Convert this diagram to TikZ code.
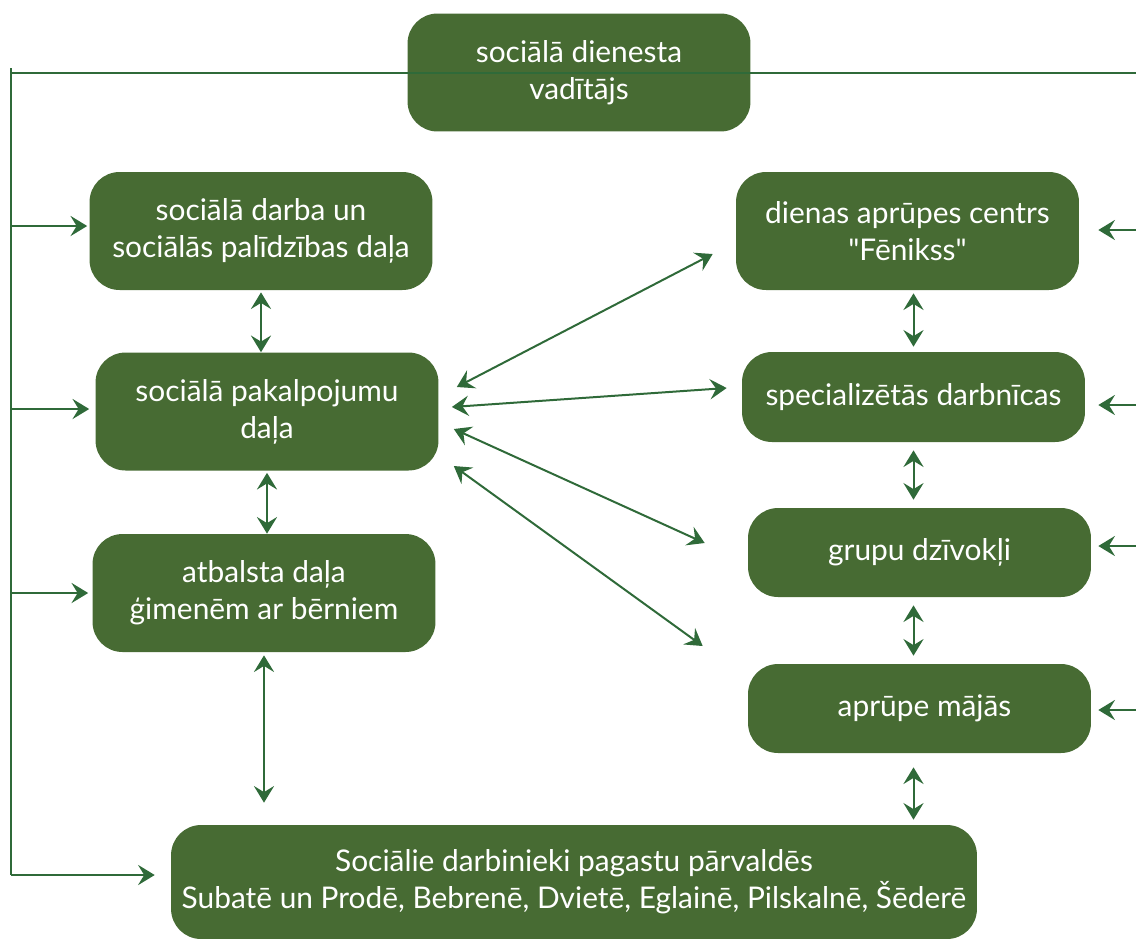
\documentclass[tikz,border=0pt]{standalone}
\usepackage{fontspec}
\newfontfamily\boxfont{Lato}
\usetikzlibrary{arrows.meta}
\definecolor{boxgreen}{RGB}{71,107,51}
\definecolor{linegreen}{RGB}{47,106,57}

\begin{document}
\begin{tikzpicture}[x=0.02cm,y=-0.02cm]
      \useasboundingbox (0,0) rectangle (1136,938);

      \begin{scope}[every node/.style={rounded corners=0.6cm, fill=boxgreen, text=white, align=center,
          inner sep=0pt, minimum width=6.86cm, minimum height=2.36cm, font=\boxfont\fontsize{17}{21}\selectfont}]
        \node (1) at (579,72.5)   {sociālā dienesta\\vadītājs};
        \node (2) at (261,231)    {sociālā darba un\\sociālās palīdzības daļa};
        \node (3) at (267,411.5)  {sociālā pakalpojumu\\daļa};
        \node (4) at (264,593)    {atbalsta daļa\\ģimenēm ar bērniem};
        \node[minimum width=16.12cm, minimum height=2.28cm] (5) at (574,882)
          {Sociālie darbinieki pagastu pārvaldēs\\Subatē un Prodē, Bebrenē, Dvietē, Eglainē, Pilskalnē, Šēderē};
        \node (6) at (907.5,231)  {dienas aprūpes centrs\\"Fēnikss"};
        \node[minimum height=1.8cm]  (7) at (913.5,397)  {specializētās darbnīcas};
        \node[minimum height=1.78cm] (8) at (919.5,552.5) {grupu dzīvokļi};
        \node[minimum height=1.78cm] (9) at (919.5,708.5) {\hspace{0.2cm}aprūpe mājās};
      \end{scope}

      \begin{scope}[draw=linegreen, line width=0.04cm, >={Stealth[length=9.5pt,width=11.5pt,inset=3.5pt]}]
        \coordinate (a) at (11,68);
        \coordinate (b) at (11,875);
        \coordinate (c) at (1136,73);
        \draw (a) -- (b);
        \draw (a |- c) -- (c);

        \foreach \n/\dy/\gap in {2/0.1/0.04, 3/0.05/0.12, 4/0/0.08, 5/0.14/0.32} {
          \coordinate (l\n) at ([yshift=\dy cm]\n.west);
          \draw[->, shorten >=\gap cm] (l\n -| a) -- (l\n);
        }
        \foreach \n/\dy/\gap in {6/0.02/0.38, 7/-0.16/0.26, 8/0.13/0.14, 9/-0.03/0.14} {
          \coordinate (r\n) at ([yshift=\dy cm]\n.east);
          \draw[->, shorten >=\gap cm] (r\n -| c) -- (r\n);
        }

        \begin{scope}[every edge/.style={draw, <->}]
          \path (2.south) edge[shorten <=0.04cm] (2.south |- 3.north);
          \path (3.south) edge[shorten <=0.04cm] (3.south |- 4.north);
          \path (4.south) edge[shorten <=0.06cm, shorten >=0.44cm] (4.south |- 5.north);
          \path (7.north |- 6.south) edge[shorten <=0.06cm, shorten >=0.1cm] (7.north);
          \path (7.south) edge[shorten <=0.16cm, shorten >=0.16cm] (7.south |- 8.north);
          \path (7.south |- 8.south) edge[shorten <=0.16cm, shorten >=0.16cm] (7.south |- 9.north);
          \path (7.south |- 9.south) edge[shorten <=0.28cm, shorten >=0.1cm] (7.south |- 5.north);
          \path ([shift={(18,-24.5)}]3.east) edge ([shift={(-23,23)}]6.west);
          \path ([shift={(13,-4.5)}]3.east)  edge ([shift={(-15,-9)}]7.west);
          \path ([shift={(15,17.5)}]3.east)  edge ([shift={(-43,-9.5)}]8.west);
          \path ([shift={(15,54.5)}]3.east)  edge ([shift={(-45,-62.5)}]9.west);
        \end{scope}
      \end{scope}

    \end{tikzpicture}
\end{document}
